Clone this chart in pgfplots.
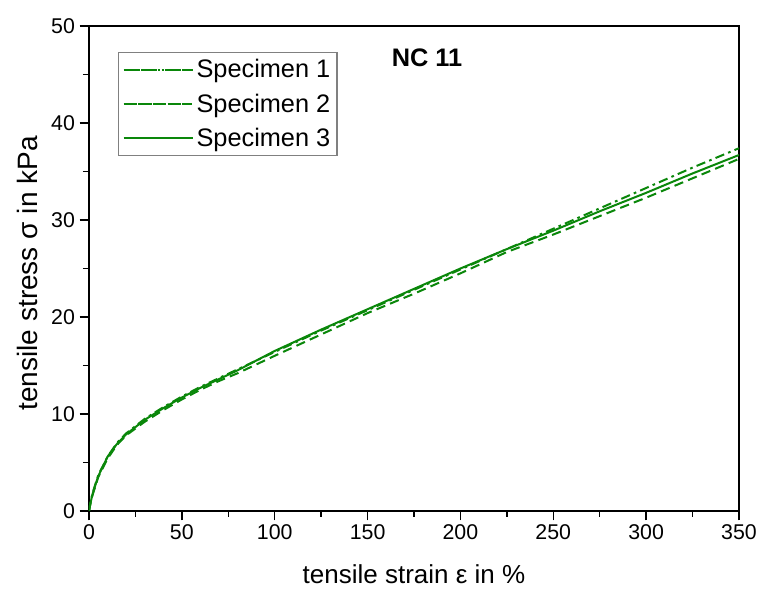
\documentclass[border=0pt]{standalone}
\usepackage{fontspec}
\setmainfont{Liberation Sans}
\usepackage{pgfplots}
\pgfplotsset{compat=1.18}
\definecolor{cgreen}{RGB}{10,135,10}
\begin{document}
\begin{tikzpicture}
\begin{axis}[
  scale only axis,
  width=487.5pt, height=363.75pt,
  xmin=0, xmax=350, ymin=0, ymax=50,
  xtick={0,50,...,350}, ytick={0,10,...,50},
  minor tick num=1,
  tick align=outside, xtick pos=bottom, ytick pos=left,
  major tick length=7pt, minor tick length=4.5pt,
  axis line style={line width=1.1pt},
  every tick/.style={line width=1pt, black},
  /pgf/number format/assume math mode=true,
  ticklabel style={font=\fontsize{16}{18}\selectfont},
  xlabel={tensile strain ε in \%},
  ylabel={tensile stress σ in kPa},
  xlabel style={font=\fontsize{19.5}{22}\selectfont, at={(axis description cs:0.5,-0.13)}, anchor=center},
  ylabel style={font=\fontsize{21}{23}\selectfont, at={(axis description cs:-0.094,0.49)}, anchor=center, rotate=0},
  legend style={at={(axis description cs:0.0446,0.946)}, anchor=north west,
    draw=gray, line width=0.8pt, font=\fontsize{19}{22}\selectfont,
    row sep=6.5pt, inner xsep=3pt, inner ysep=3pt,
    nodes={inner sep=2pt}},
  legend cell align=left,
  legend image code/.code={\path (0pt,0pt) -- (52pt,0pt); \draw[#1, line width=1.5pt] (3pt,0pt) -- (48pt,0pt);},
]
\addplot[cgreen, line width=1.5pt, dash pattern=on 7pt off 3.2pt on 2pt off 3.2pt] coordinates {
(0,0) (1,1.1) (2,1.9) (5,3.7) (10,5.6) (15,7.0) (20,8.0) (30,9.5) (40,10.7) (50,11.8) (60,12.8) (70,13.7) (80,14.6) (90,15.5) (100,16.4) (125,18.6) (150,20.7) (175,22.8) (200,24.9) (225,27.0) (250,29.1) (275,31.2) (300,33.3) (325,35.4) (350,37.4)
};
\addlegendentry{Specimen 1}
\addplot[cgreen, line width=1.5pt, dash pattern=on 7pt off 4pt] coordinates {
(0,0) (1,1.0) (2,1.7) (5,3.5) (10,5.4) (15,6.8) (20,7.8) (30,9.2) (40,10.4) (50,11.5) (60,12.5) (70,13.4) (80,14.2) (90,15.1) (100,16.0) (125,18.2) (150,20.4) (175,22.4) (200,24.5) (225,26.7) (250,28.5) (275,30.4) (300,32.3) (325,34.3) (350,36.3)
};
\addlegendentry{Specimen 2}
\addplot[cgreen, line width=1.5pt] coordinates {
(0,0) (1,1.0) (2,1.8) (5,3.6) (10,5.6) (15,6.9) (20,7.9) (30,9.4) (40,10.6) (50,11.7) (60,12.7) (70,13.6) (80,14.5) (90,15.5) (100,16.5) (125,18.7) (150,20.8) (175,22.9) (200,25.0) (225,27.0) (250,28.9) (275,30.9) (300,32.8) (325,34.8) (350,36.7)
};
\addlegendentry{Specimen 3}
\node[font=\bfseries\fontsize{19}{21}\selectfont] at (rel axis cs:0.52,0.934) {NC 11};
\end{axis}
\pgfresetboundingbox
\path[use as bounding box] ([shift={(-66.75pt,-59.25pt)}]current axis.south west) rectangle ([shift={(15pt,19.5pt)}]current axis.north east);
\end{tikzpicture}
\end{document}
